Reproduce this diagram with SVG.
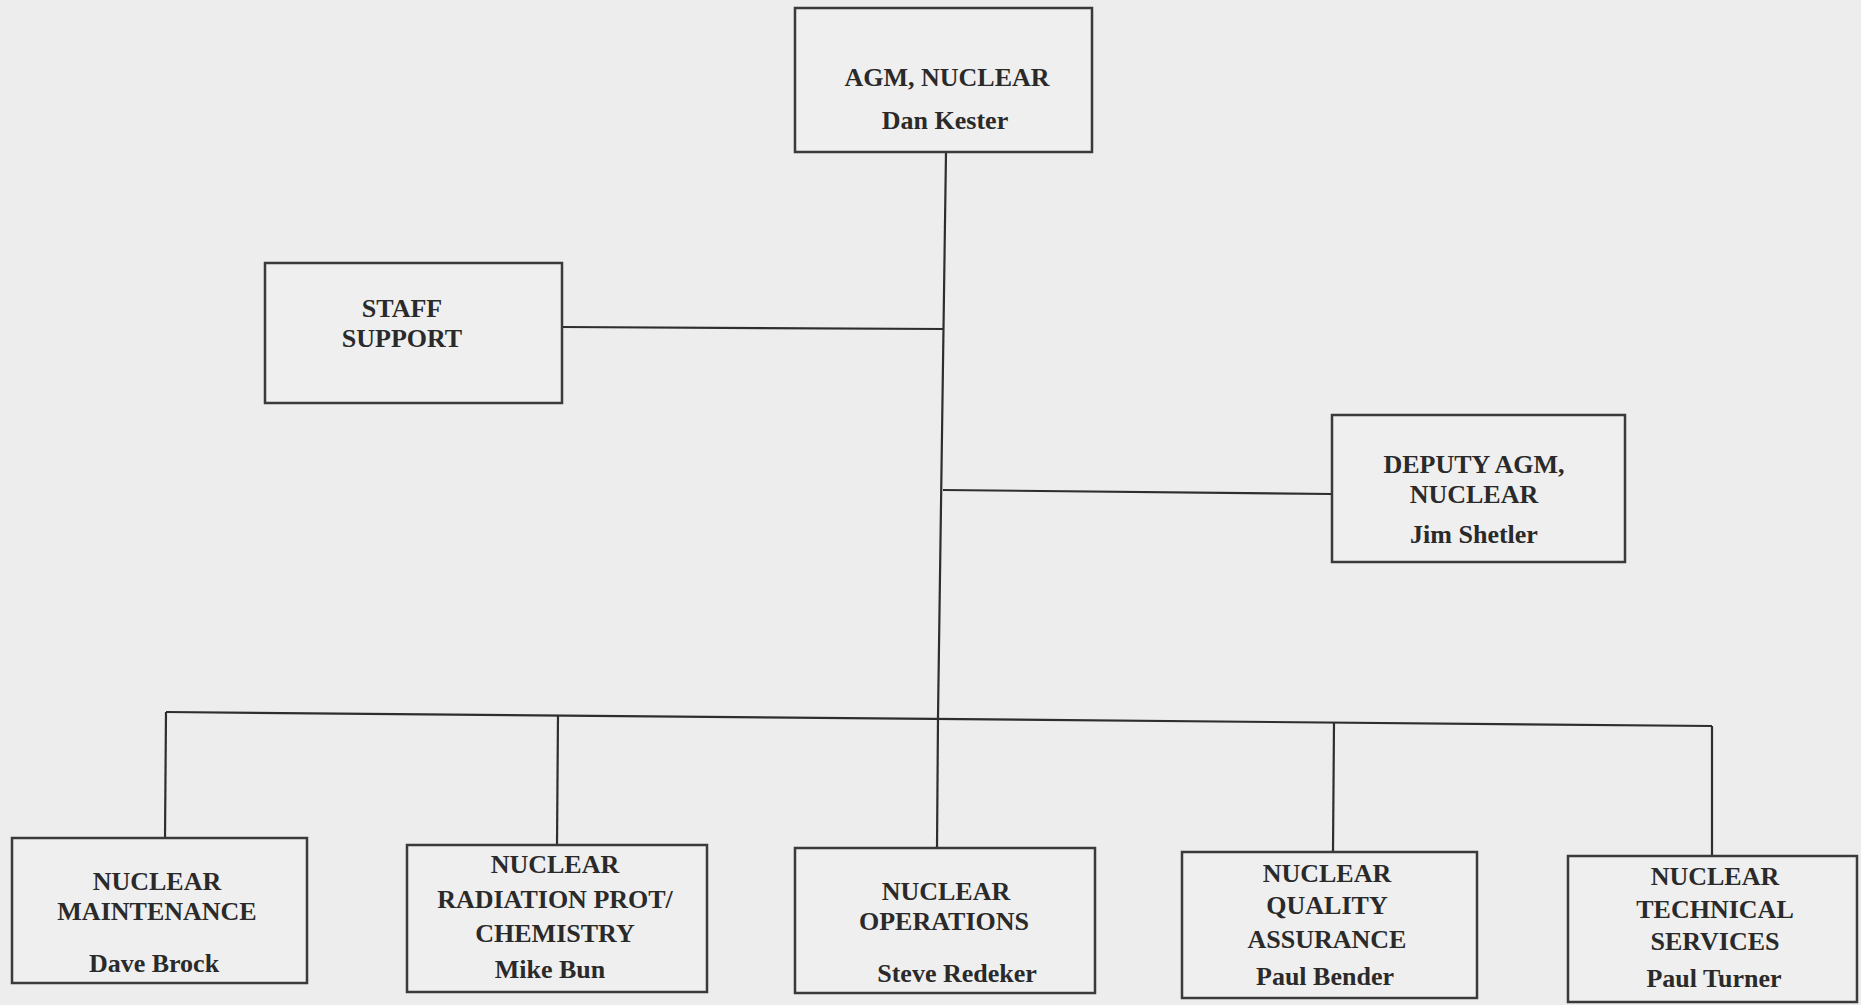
<svg xmlns="http://www.w3.org/2000/svg" width="1861" height="1005" viewBox="0 0 1861 1005">
<style>
.bg{fill:#ededed}
.box{fill:#efefef;stroke:#3a3a3a;stroke-width:2.5}
.ln{fill:none;stroke:#2e2e2e;stroke-width:2.2}
text{font-family:"Liberation Serif","Times New Roman",serif;font-weight:bold;font-size:26px;fill:#2a2a2a;text-anchor:middle}
</style>
<rect class="bg" x="0" y="0" width="1861" height="1005"/>
<g id="connectors">
<polyline class="ln" points="946,152 938,717"/>
<line class="ln" x1="562" y1="327" x2="944" y2="329"/>
<line class="ln" x1="943" y1="490" x2="1332" y2="494"/>
<line class="ln" x1="166" y1="712" x2="1712" y2="726"/>
<line class="ln" x1="166" y1="712" x2="165" y2="838"/>
<line class="ln" x1="558" y1="715" x2="557" y2="845"/>
<line class="ln" x1="938" y1="717" x2="937" y2="848"/>
<line class="ln" x1="1334" y1="722" x2="1333" y2="852"/>
<line class="ln" x1="1712" y1="726" x2="1712" y2="856"/>
</g>
<g id="agm">
<rect class="box" x="795" y="8" width="297" height="144"/>
<text x="947" y="86">AGM, NUCLEAR</text>
<text x="945" y="129">Dan Kester</text>
</g>
<g id="staff">
<rect class="box" x="265" y="263" width="297" height="140"/>
<text x="402" y="317">STAFF</text>
<text x="402" y="347">SUPPORT</text>
</g>
<g id="deputy">
<rect class="box" x="1332" y="415" width="293" height="147"/>
<text x="1474" y="473">DEPUTY AGM,</text>
<text x="1474" y="503">NUCLEAR</text>
<text x="1474" y="543">Jim Shetler</text>
</g>
<g id="maintenance">
<rect class="box" x="12" y="838" width="295" height="145"/>
<text x="157" y="890">NUCLEAR</text>
<text x="157" y="920">MAINTENANCE</text>
<text x="154" y="972">Dave Brock</text>
</g>
<g id="radiation">
<rect class="box" x="407" y="845" width="300" height="147"/>
<text x="555" y="873">NUCLEAR</text>
<text x="555" y="908">RADIATION PROT/</text>
<text x="555" y="942">CHEMISTRY</text>
<text x="550" y="978">Mike Bun</text>
</g>
<g id="operations">
<rect class="box" x="795" y="848" width="300" height="145"/>
<text x="946" y="900">NUCLEAR</text>
<text x="944" y="930">OPERATIONS</text>
<text x="957" y="982">Steve Redeker</text>
</g>
<g id="qa">
<rect class="box" x="1182" y="852" width="295" height="146"/>
<text x="1327" y="882">NUCLEAR</text>
<text x="1327" y="914">QUALITY</text>
<text x="1327" y="948">ASSURANCE</text>
<text x="1325" y="985">Paul Bender</text>
</g>
<g id="technical">
<rect class="box" x="1568" y="856" width="289" height="146"/>
<text x="1715" y="885">NUCLEAR</text>
<text x="1715" y="918">TECHNICAL</text>
<text x="1715" y="950">SERVICES</text>
<text x="1714" y="987">Paul Turner</text>
</g>
</svg>
